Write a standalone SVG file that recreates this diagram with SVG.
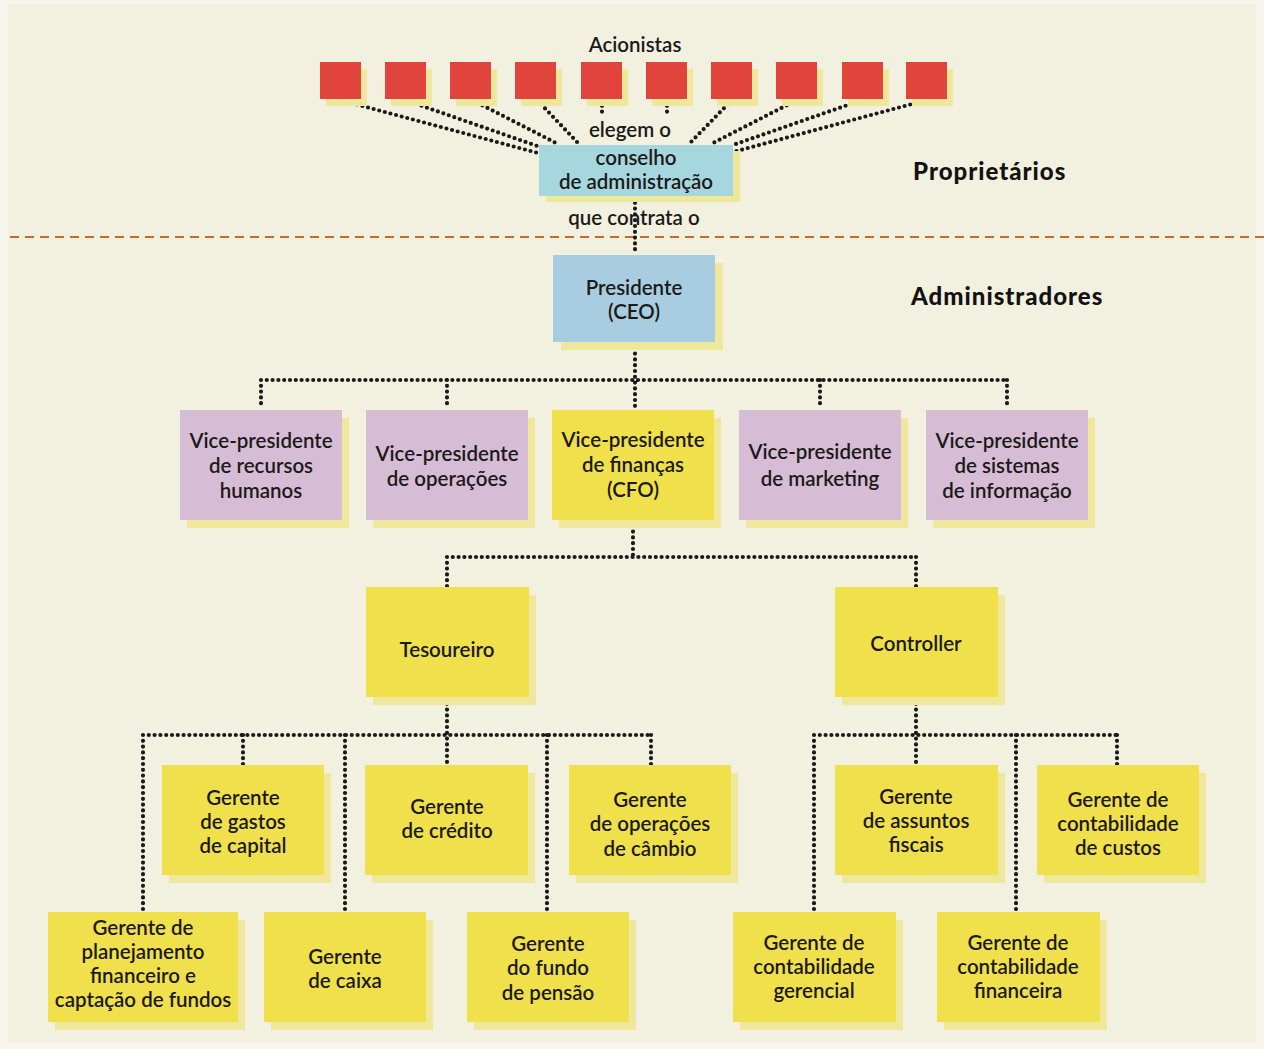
<svg xmlns="http://www.w3.org/2000/svg" width="1264" height="1049" viewBox="0 0 1264 1049">
<style>
.t{font-family:Lato,"Liberation Sans",sans-serif;font-size:20.5px;font-weight:600;fill:#1c1a18;text-anchor:middle}
.b{font-family:Lato,"Liberation Sans",sans-serif;font-size:24px;font-weight:900;letter-spacing:1px;fill:#141210}
.dot{fill:none;stroke:#1a1a1a;stroke-width:4.2;stroke-linecap:round;stroke-dasharray:0 5.8}
.sh{fill:#efe79c}
.y{fill:#f0e04c}
.p{fill:#d6bdd5}
.r{fill:#e0443d}
</style>
<rect x="0" y="0" width="1264" height="1049" fill="#f7f6ec"/>
<rect x="8" y="4" width="1248" height="1038" fill="#f2f0df"/>
<line x1="10" y1="237" x2="1264" y2="237" stroke="#c76a2c" stroke-width="2" stroke-dasharray="9 6"/>

<g id="connectors">
<path class="dot" d="M340 100 L538 153 M405 100 L540 147 M472 100 L556 143 M537 100 L578 143 M602 100 L602 116 M667 100 L667 114 M732 100 L690 143 M797 100 L713 143 M862 100 L733 145 M927 100 L733 152"/>
<path class="dot" d="M635 197 L635 255 M635 342 L635 409 M261 380 L1007 380 M261 380 L261 409 M447 380 L447 409 M820 380 L820 409 M1007 380 L1007 409"/>
<path class="dot" d="M633 520 L633 557 M447 557 L916 557 M447 557 L447 587 M916 557 L916 587"/>
<path class="dot" d="M447 698 L447 765 M143 735 L651 735 M143 735 L143 912 M243 735 L243 765 M345 735 L345 912 M547 735 L547 912 M651 735 L651 765"/>
<path class="dot" d="M916 698 L916 765 M814 735 L1117 735 M814 735 L814 912 M1016 735 L1016 912 M1117 735 L1117 765"/>
</g>

<g id="acionistas">
<text class="t" x="635" y="52">Acionistas</text>
<g class="sh">
<rect x="326" y="69" width="41" height="37"/><rect x="391" y="69" width="41" height="37"/><rect x="456" y="69" width="41" height="37"/><rect x="521" y="69" width="41" height="37"/><rect x="587" y="69" width="41" height="37"/><rect x="652" y="69" width="41" height="37"/><rect x="717" y="69" width="41" height="37"/><rect x="782" y="69" width="41" height="37"/><rect x="848" y="69" width="41" height="37"/><rect x="912" y="69" width="41" height="37"/>
</g>
<g class="r">
<rect x="320" y="62" width="41" height="37"/><rect x="385" y="62" width="41" height="37"/><rect x="450" y="62" width="41" height="37"/><rect x="515" y="62" width="41" height="37"/><rect x="581" y="62" width="41" height="37"/><rect x="646" y="62" width="41" height="37"/><rect x="711" y="62" width="41" height="37"/><rect x="776" y="62" width="41" height="37"/><rect x="842" y="62" width="41" height="37"/><rect x="906" y="62" width="41" height="37"/>
</g>
</g>

<text class="t" x="630" y="137">elegem o</text>
<g id="conselho">
<rect class="sh" x="546" y="151" width="194" height="51"/>
<rect x="539" y="145" width="194" height="51" fill="#a6d7de"/>
<text class="t" x="636" y="165">conselho</text>
<text class="t" x="636" y="189">de administração</text>
</g>
<text class="t" x="634" y="225">que contrata o</text>

<text class="b" x="913" y="180">Proprietários</text>
<text class="b" x="911" y="305">Administradores</text>

<g id="ceo">
<rect class="sh" x="561" y="263" width="162" height="87"/>
<rect x="553" y="255" width="162" height="87" fill="#a8cde0"/>
<text class="t" x="634" y="295">Presidente</text>
<text class="t" x="634" y="319">(CEO)</text>
</g>

<g id="vp-rh">
<rect class="sh" x="187" y="418" width="162" height="110"/>
<rect class="p" x="180" y="410" width="162" height="110"/>
<text class="t" x="261" y="448">Vice-presidente</text>
<text class="t" x="261" y="473">de recursos</text>
<text class="t" x="261" y="498">humanos</text>
</g>
<g id="vp-op">
<rect class="sh" x="373" y="418" width="162" height="110"/>
<rect class="p" x="366" y="410" width="162" height="110"/>
<text class="t" x="447" y="461">Vice-presidente</text>
<text class="t" x="447" y="486">de operações</text>
</g>
<g id="vp-fin">
<rect class="sh" x="559" y="418" width="162" height="110"/>
<rect class="y" x="552" y="410" width="162" height="110"/>
<text class="t" x="633" y="447">Vice-presidente</text>
<text class="t" x="633" y="472">de finanças</text>
<text class="t" x="633" y="497">(CFO)</text>
</g>
<g id="vp-mkt">
<rect class="sh" x="746" y="418" width="162" height="110"/>
<rect class="p" x="739" y="410" width="162" height="110"/>
<text class="t" x="820" y="459">Vice-presidente</text>
<text class="t" x="820" y="486">de marketing</text>
</g>
<g id="vp-si">
<rect class="sh" x="933" y="418" width="162" height="110"/>
<rect class="p" x="926" y="410" width="162" height="110"/>
<text class="t" x="1007" y="448">Vice-presidente</text>
<text class="t" x="1007" y="473">de sistemas</text>
<text class="t" x="1007" y="498">de informação</text>
</g>

<g id="tesoureiro">
<rect class="sh" x="373" y="595" width="163" height="110"/>
<rect class="y" x="366" y="587" width="163" height="110"/>
<text class="t" x="447" y="657">Tesoureiro</text>
</g>
<g id="controller">
<rect class="sh" x="842" y="595" width="163" height="110"/>
<rect class="y" x="835" y="587" width="163" height="110"/>
<text class="t" x="916" y="651">Controller</text>
</g>

<g id="g-gastos">
<rect class="sh" x="169" y="773" width="162" height="110"/>
<rect class="y" x="162" y="765" width="162" height="110"/>
<text class="t" x="243" y="805">Gerente</text>
<text class="t" x="243" y="829">de gastos</text>
<text class="t" x="243" y="853">de capital</text>
</g>
<g id="g-credito">
<rect class="sh" x="372" y="773" width="163" height="110"/>
<rect class="y" x="365" y="765" width="163" height="110"/>
<text class="t" x="447" y="814">Gerente</text>
<text class="t" x="447" y="838">de crédito</text>
</g>
<g id="g-cambio">
<rect class="sh" x="576" y="773" width="162" height="110"/>
<rect class="y" x="569" y="765" width="162" height="110"/>
<text class="t" x="650" y="807">Gerente</text>
<text class="t" x="650" y="831">de operações</text>
<text class="t" x="650" y="856">de câmbio</text>
</g>
<g id="g-fiscais">
<rect class="sh" x="842" y="773" width="163" height="110"/>
<rect class="y" x="835" y="765" width="163" height="110"/>
<text class="t" x="916" y="804">Gerente</text>
<text class="t" x="916" y="828">de assuntos</text>
<text class="t" x="916" y="852">fiscais</text>
</g>
<g id="g-custos">
<rect class="sh" x="1044" y="773" width="162" height="110"/>
<rect class="y" x="1037" y="765" width="162" height="110"/>
<text class="t" x="1118" y="807">Gerente de</text>
<text class="t" x="1118" y="831">contabilidade</text>
<text class="t" x="1118" y="855">de custos</text>
</g>

<g id="g-planejamento">
<rect class="sh" x="55" y="920" width="190" height="110"/>
<rect class="y" x="48" y="912" width="190" height="110"/>
<text class="t" x="143" y="935">Gerente de</text>
<text class="t" x="143" y="959">planejamento</text>
<text class="t" x="143" y="983">financeiro e</text>
<text class="t" x="143" y="1007">captação de fundos</text>
</g>
<g id="g-caixa">
<rect class="sh" x="271" y="920" width="162" height="110"/>
<rect class="y" x="264" y="912" width="162" height="110"/>
<text class="t" x="345" y="964">Gerente</text>
<text class="t" x="345" y="988">de caixa</text>
</g>
<g id="g-pensao">
<rect class="sh" x="474" y="920" width="162" height="110"/>
<rect class="y" x="467" y="912" width="162" height="110"/>
<text class="t" x="548" y="951">Gerente</text>
<text class="t" x="548" y="975">do fundo</text>
<text class="t" x="548" y="1000">de pensão</text>
</g>
<g id="g-gerencial">
<rect class="sh" x="740" y="920" width="163" height="110"/>
<rect class="y" x="733" y="912" width="163" height="110"/>
<text class="t" x="814" y="950">Gerente de</text>
<text class="t" x="814" y="974">contabilidade</text>
<text class="t" x="814" y="998">gerencial</text>
</g>
<g id="g-financeira">
<rect class="sh" x="944" y="920" width="163" height="110"/>
<rect class="y" x="937" y="912" width="163" height="110"/>
<text class="t" x="1018" y="950">Gerente de</text>
<text class="t" x="1018" y="974">contabilidade</text>
<text class="t" x="1018" y="998">financeira</text>
</g>
</svg>
